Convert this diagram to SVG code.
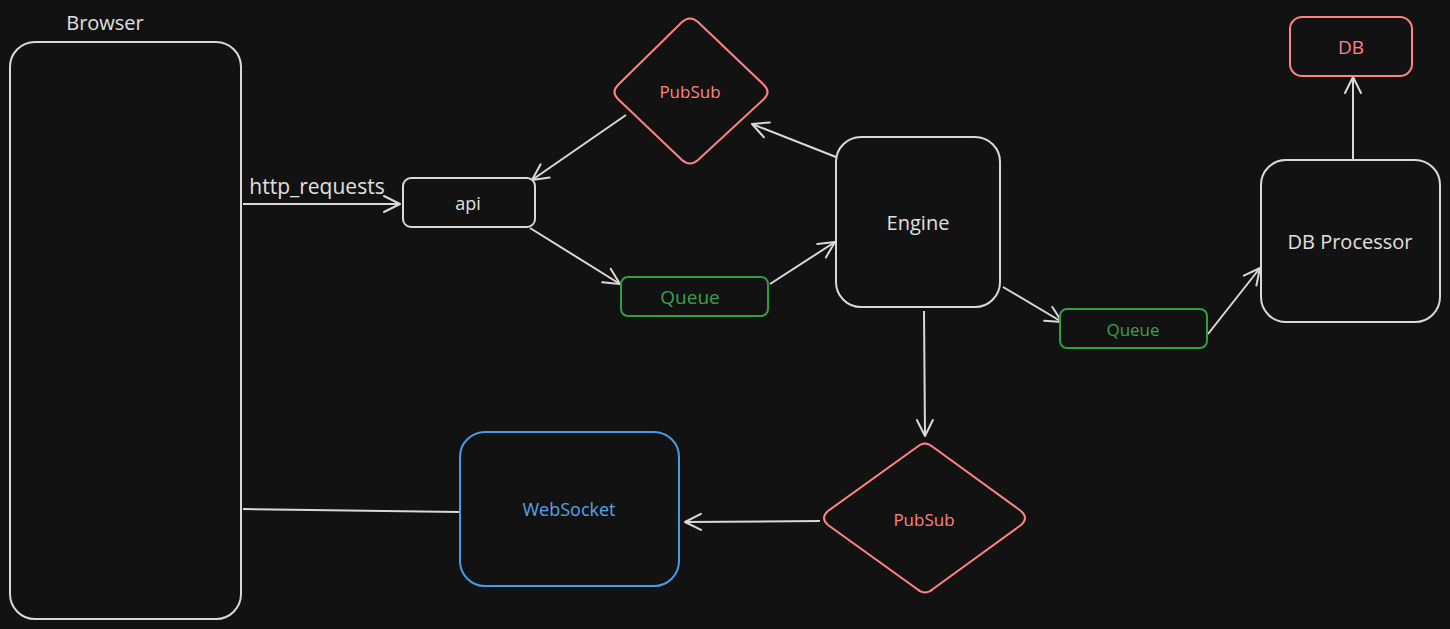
<svg xmlns="http://www.w3.org/2000/svg" width="1450" height="629" viewBox="0 0 1450 629">
<defs>
<marker id="ah" viewBox="0 0 20 20" refX="18" refY="10" markerWidth="20" markerHeight="20" markerUnits="userSpaceOnUse" orient="auto">
<path d="M2,2 L18,10 L2,18" fill="none" stroke="#d9d9d9" stroke-width="2" stroke-linecap="round" stroke-linejoin="round"/>
</marker>
</defs>
<style>
text{font-family:"Open Sans","Liberation Sans",sans-serif;text-anchor:middle;dominant-baseline:central}
.w{stroke:#d9d9d9;fill:#121212;stroke-width:2}
.r{stroke:#ff8383;fill:#121212;stroke-width:2}
.g{stroke:#2f9e44;fill:#121212;stroke-width:2}
.b{stroke:#4a9ae6;fill:#121212;stroke-width:2}
.tw{fill:#e0e0e0}
.tr{fill:#ff8383}
.tg{fill:#3aa14e}
.tb{fill:#56a4ec}
.c{stroke:#d9d9d9;stroke-width:2;fill:none;marker-end:url(#ah)}
.n{stroke:#d9d9d9;stroke-width:2;fill:none}
</style>
<rect width="1450" height="629" fill="#121212"/>
<g id="connectors">
<line class="c" x1="243" y1="204" x2="400" y2="204"/>
<line class="c" x1="626" y1="115" x2="532" y2="180"/>
<line class="c" x1="530" y1="228" x2="620" y2="284"/>
<line class="c" x1="770" y1="284" x2="835" y2="242"/>
<line class="c" x1="836" y1="157" x2="752" y2="124"/>
<line class="c" x1="1003" y1="287" x2="1062" y2="322"/>
<line class="c" x1="1208" y1="334" x2="1260" y2="268"/>
<line class="c" x1="1353" y1="160" x2="1353" y2="77"/>
<line class="c" x1="924" y1="311" x2="925" y2="436"/>
<line class="c" x1="820" y1="521" x2="685" y2="522"/>
<line class="n" x1="243" y1="509" x2="459" y2="512"/>
<text class="tw" x="317" y="186" font-size="21">http_requests</text>
</g>
<g id="browser">
<rect class="w" x="10" y="42" width="231" height="577" rx="25"/>
<text class="tw" x="105" y="22" font-size="20">Browser</text>
</g>
<g id="api">
<rect class="w" x="403" y="178" width="132" height="49" rx="8"/>
<text class="tw" x="468" y="203" font-size="18">api</text>
</g>
<g id="pubsub-top">
<path class="r" d="M682,22 Q690,15 698,22 L764,85 Q771,92 764,99 L698,160 Q690,167 682,160 L618,99 Q611,92 618,85 Z"/>
<text class="tr" x="690" y="91" font-size="17">PubSub</text>
</g>
<g id="queue1">
<rect class="g" x="621" y="277" width="147" height="39" rx="7"/>
<text class="tg" x="690" y="297" font-size="19">Queue</text>
</g>
<g id="engine">
<rect class="w" x="836" y="137" width="164" height="170" rx="25"/>
<text class="tw" x="918" y="222" font-size="20">Engine</text>
</g>
<g id="queue2">
<rect class="g" x="1060" y="309" width="147" height="39" rx="7"/>
<text class="tg" x="1133" y="329" font-size="17">Queue</text>
</g>
<g id="db-processor">
<rect class="w" x="1261" y="160" width="179" height="162" rx="25"/>
<text class="tw" x="1350" y="241" font-size="20">DB Processor</text>
</g>
<g id="db">
<rect class="r" x="1290" y="17" width="122" height="59" rx="12"/>
<text class="tr" x="1351" y="47" font-size="19">DB</text>
</g>
<g id="websocket">
<rect class="b" x="460" y="432" width="219" height="154" rx="25"/>
<text class="tb" x="569" y="509" font-size="18">WebSocket</text>
</g>
<g id="pubsub-bottom">
<path class="r" d="M917,447 Q925,440 933,447 L1021,511 Q1029,518 1021,525 L933,589 Q925,596 917,589 L828,525 Q820,518 828,511 Z"/>
<text class="tr" x="924" y="519" font-size="17">PubSub</text>
</g>
</svg>
